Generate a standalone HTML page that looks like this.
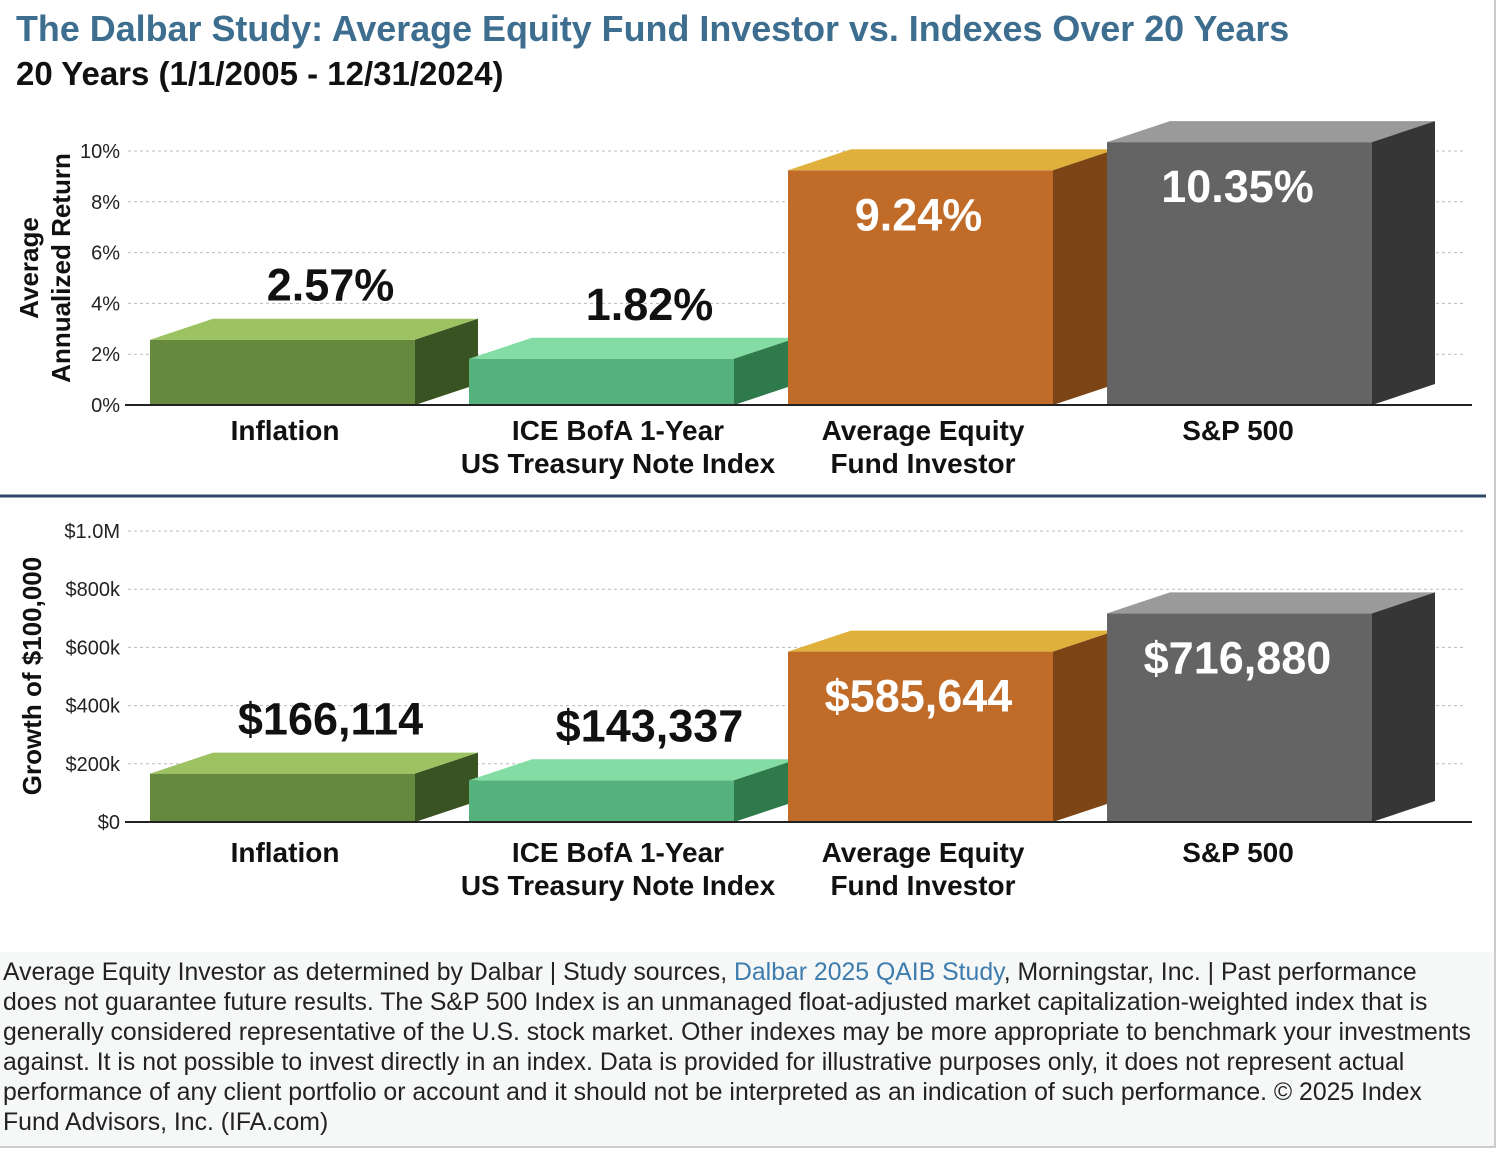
<!DOCTYPE html>
<html><head><meta charset="utf-8"><style>
body{margin:0;width:1498px;height:1150px;background:#fff;font-family:"Liberation Sans",sans-serif;overflow:hidden;position:relative}
#frame{position:absolute;left:0;top:0;width:1494px;height:1146px;border-right:2px solid #ccc;border-bottom:2px solid #ccc}
h1{position:absolute;left:16px;top:9px;margin:0;font-size:35.9px;font-weight:bold;color:#3d6e8f}
h2{position:absolute;left:16px;top:55px;margin:0;font-size:33px;font-weight:bold;color:#111}
#foot{position:absolute;left:0;top:952px;width:1494px;height:194px;background:#f6f7f7;font-size:24.8px;line-height:30px;color:#222;padding:6px 3px;box-sizing:border-box;white-space:nowrap}
#foot a{color:#3d7cae;text-decoration:none}
</style></head><body>
<div id="frame"></div>
<h1>The Dalbar Study: Average Equity Fund Investor vs. Indexes Over 20 Years</h1>
<h2>20 Years (1/1/2005 - 12/31/2024)</h2>
<svg id="svg" width="1498" height="950" style="position:absolute;left:0;top:0"></svg>
<div id="foot">Average Equity Investor as determined by Dalbar | Study sources, <a>Dalbar 2025 QAIB Study</a>, Morningstar, Inc. | Past performance<br>does not guarantee future results. The S&amp;P 500 Index is an unmanaged float-adjusted market capitalization-weighted index that is<br>generally considered representative of the U.S. stock market. Other indexes may be more appropriate to benchmark your investments<br>against. It is not possible to invest directly in an index. Data is provided for illustrative purposes only, it does not represent actual<br>performance of any client portfolio or account and it should not be interpreted as an indication of such performance. © 2025 Index<br>Fund Advisors, Inc. (IFA.com)</div>
<script>
const categories=[["Inflation"],["ICE BofA 1-Year","US Treasury Note Index"],["Average Equity","Fund Investor"],["S&P 500"]];
const returnValues=[2.57,1.82,9.24,10.35];
const returnLabels=["2.57%","1.82%","9.24%","10.35%"];
const returnTicks=[0,2,4,6,8,10];
const growthValues=[166114,143337,585644,716880];
const growthLabels=["$166,114","$143,337","$585,644","$716,880"];
const growthTicks=[0,200000,400000,600000,800000,1000000];
const growthTickLabels=["$0","$200k","$400k","$600k","$800k","$1.0M"];

const colors=[["#658a3d","#9dc262","#3a5322"],["#55b27d","#82dca4","#2f7a4b"],["#c06b27","#e0b03c","#7b4516"],["#646464","#9a9a9a","#363636"]];
const catCenters=[285,618,923,1238];
const NS="http://www.w3.org/2000/svg";
const svg=document.getElementById('svg');
function mk(t,a,txt){const e=document.createElementNS(NS,t);for(const k in a)e.setAttribute(k,a[k]);if(txt!=null)e.textContent=txt;svg.appendChild(e);return e;}
const barX=[150,469,788,1107],BW=265,DX=63,DY=21;

function chart(vals,labels,ticks,tickLabels,y0,y1,max,axisTitle,catY,name){
  const y=v=>y0-(v/max)*(y0-y1);
  ticks.forEach((t,i)=>{
    const g=mk('line',{x1:128,x2:1465,y1:y(t),y2:y(t),stroke:'#bbb','stroke-dasharray':'3,3'});
    
    const tl=mk('text',{x:120,y:y(t)+7,'text-anchor':'end','font-size':20,fill:'#222'},tickLabels[i]);
    
  });
  vals.forEach((v,i)=>{
    const x=barX[i],top=y(v),c=colors[i];
    const f=mk('rect',{x:x,y:top,width:BW,height:y0-top,fill:c[0]});
    
    const t=mk('polygon',{points:`${x},${top} ${x+DX},${top-DY} ${x+BW+DX},${top-DY} ${x+BW},${top}`,fill:c[1]});
    
    const s=mk('polygon',{points:`${x+BW},${top} ${x+BW+DX},${top-DY} ${x+BW+DX},${y0-DY} ${x+BW},${y0}`,fill:c[2]});
    
    const inside=i>=2;
    const lx=inside?x+BW/2-2:x+BW/2+48, ly=inside?top+60:top-DY-18;
    const l=mk('text',{x:lx,y:ly,'text-anchor':'middle','font-size':45,'font-weight':'bold',fill:inside?'#fff':'#111'},labels[i]);
    
    categories[i].forEach((ln,j)=>{
      const cl=mk('text',{x:catCenters[i],y:catY+j*33,'text-anchor':'middle','font-size':28,'font-weight':'bold',fill:'#111'},ln);
      
    });
  });
  const ax=mk('line',{x1:125,x2:1472,y1:y0,y2:y0,stroke:'#222','stroke-width':2});
  
  axisTitle.lines.forEach((ln,j)=>{
    const at=mk('text',{x:0,y:0,'text-anchor':'middle','font-size':26,'font-weight':'bold',fill:'#111',transform:`translate(${axisTitle.x+j*32},${axisTitle.cy}) rotate(-90)`},ln);
    
  });
}
chart(returnValues,returnLabels,returnTicks,returnTicks.map(t=>t+'%'),405,151,10,{lines:['Average','Annualized Return'],x:38,cy:268},440,'returns');
chart(growthValues,growthLabels,growthTicks,growthTickLabels,822,531,1000000,{lines:['Growth of $100,000'],x:41,cy:676},862,'growth');
const d=mk('line',{x1:0,x2:1486,y1:496,y2:496,stroke:'#2c4a66','stroke-width':3});

</script>
</body></html>
